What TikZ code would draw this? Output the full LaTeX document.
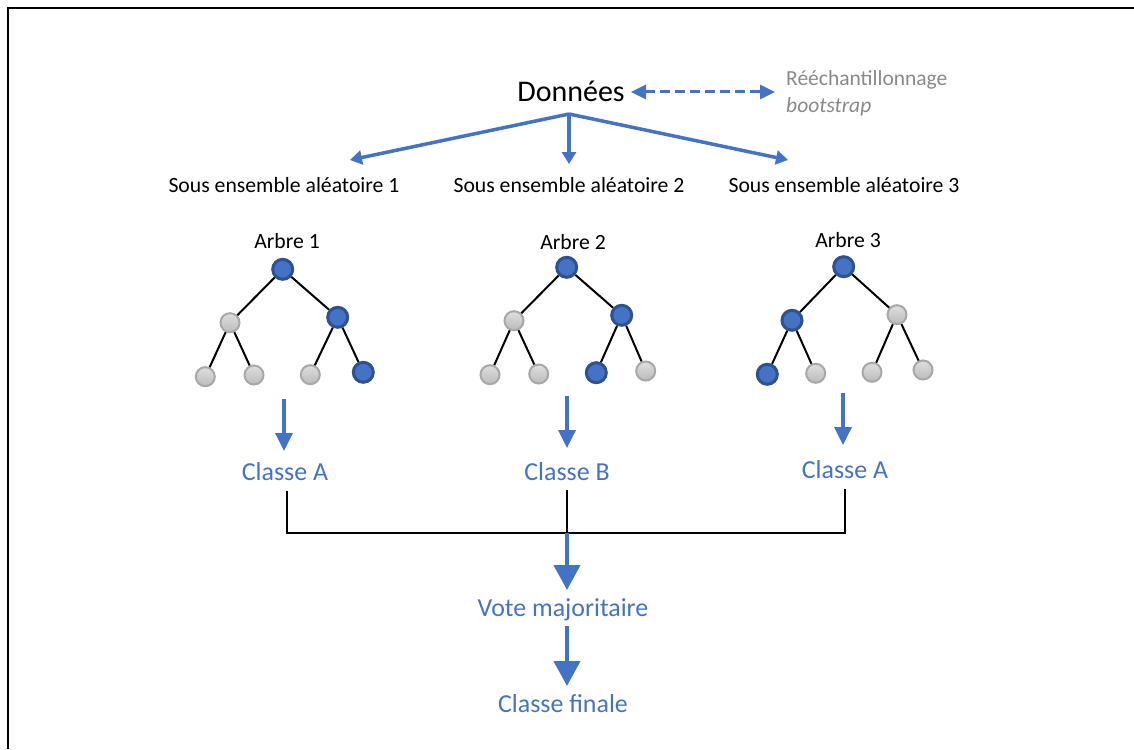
\documentclass[tikz,border=0pt]{standalone}
\usepackage{fontspec}
\setmainfont{Carlito}
\usetikzlibrary{arrows.meta}
\definecolor{bl}{RGB}{68,114,196}
\definecolor{dbl}{RGB}{47,82,143}
\definecolor{gf}{RGB}{208,208,208}
\definecolor{gb}{RGB}{168,168,168}
\definecolor{gt}{RGB}{137,137,137}
\begin{document}
\begin{tikzpicture}[x=1pt,y=-1pt,
  big/.style={font=\fontsize{30}{36}\selectfont, anchor=base, inner sep=0},
  small/.style={font=\fontsize{21.7}{26}\selectfont, anchor=base, inner sep=0},
  grt/.style={font=\fontsize{21.5}{26}\selectfont, text=gt, anchor=base west, inner sep=0},
  cls/.style={font=\fontsize{25.9}{31}\selectfont, text=bl, anchor=base, inner sep=0},
  bn/.style={circle, fill=bl, draw=dbl, line width=3pt, minimum size=20pt, inner sep=0},
  gn/.style={circle, top color=gf!70!white, bottom color=gf!90!black, draw=gb, line width=2pt, minimum size=19pt, inner sep=0},
  tedge/.style={line width=2pt},
  bracket/.style={line width=2pt},
  darrow/.style={draw=bl, line width=3.5pt, -{Triangle[length=12pt,width=14pt]}},
  tarrow/.style={draw=bl, line width=3.5pt, -{Triangle[length=18pt,width=17pt]}},
  barrow/.style={draw=bl, line width=4.3pt, -{Triangle[length=25pt,width=26pt]}},
  dasharrow/.style={draw=bl, line width=3pt, dash pattern=on 10pt off 5pt,
     {Triangle[length=15pt,width=14pt]}-{Triangle[length=15pt,width=14pt]}}
]
\useasboundingbox (0,0) rectangle (1134,749);
% frame
\draw[line width=2pt] (8,749) -- (8,8) -- (1134,8);

% top
\node[big] (don) at (571,102) {Données};
\node[grt] (res) at (786,86) {Rééchantillonnage};
\node[grt] (boot) at (786,113) {\itshape bootstrap};
\coordinate (da) at (631,92);
\coordinate (db) at (775,92);
\draw[dasharrow] (da) -- (db);

\coordinate (split) at (569,114);
\coordinate (t1) at (350,160);
\coordinate (t2) at (569,164);
\coordinate (t3) at (788,160);
\draw[darrow] (split) -- (t1);
\draw[darrow] (split) -- (t2);
\draw[darrow] (split) -- (t3);

\node[small] (s1) at (284,192) {Sous ensemble aléatoire 1};
\node[small] (s2) at (569,192) {Sous ensemble aléatoire 2};
\node[small] (s3) at (844,192) {Sous ensemble aléatoire 3};

\node[small] (a1) at (287,248) {Arbre 1};
\node[small] (a2) at (573,249) {Arbre 2};
\node[small] (a3) at (848,247) {Arbre 3};

% tree 1
\node[bn] (r1) at (282.7,269.3) {};
\node[gn] (l1) at (230,322.7) {};
\node[bn] (m1) at (337.7,317.3) {};
\node[gn] (l1a) at (205.3,376.7) {};
\node[gn] (l1b) at (254,375) {};
\node[gn] (m1a) at (310.3,374.7) {};
\node[bn] (m1b) at (363.3,372.3) {};
\draw[tedge] (r1) -- (l1); \draw[tedge] (r1) -- (m1);
\draw[tedge] (l1) -- (l1a); \draw[tedge] (l1) -- (l1b);
\draw[tedge] (m1) -- (m1a); \draw[tedge] (m1) -- (m1b);

% tree 2
\node[bn] (r2) at (566.7,267.3) {};
\node[gn] (l2) at (514,320.7) {};
\node[bn] (m2) at (621.7,315.3) {};
\node[gn] (l2a) at (490,374.7) {};
\node[gn] (l2b) at (538.7,374) {};
\node[bn] (m2a) at (596.3,372.7) {};
\node[gn] (m2b) at (645.7,371) {};
\draw[tedge] (r2) -- (l2); \draw[tedge] (r2) -- (m2);
\draw[tedge] (l2) -- (l2a); \draw[tedge] (l2) -- (l2b);
\draw[tedge] (m2) -- (m2a); \draw[tedge] (m2) -- (m2b);

% tree 3
\node[bn] (r3) at (843.7,266.7) {};
\node[bn] (l3) at (792,320.3) {};
\node[gn] (m3) at (897,314.7) {};
\node[bn] (l3a) at (767.3,374.3) {};
\node[gn] (l3b) at (815.7,373.3) {};
\node[gn] (m3a) at (872,372.3) {};
\node[gn] (m3b) at (923,370) {};
\draw[tedge] (r3) -- (l3); \draw[tedge] (r3) -- (m3);
\draw[tedge] (l3) -- (l3a); \draw[tedge] (l3) -- (l3b);
\draw[tedge] (m3) -- (m3a); \draw[tedge] (m3) -- (m3b);

% tree arrows
\coordinate (p1) at (284,399);
\coordinate (q1) at (284,451);
\coordinate (p2) at (567,396);
\coordinate (q2) at (567,448);
\coordinate (p3) at (843,393);
\coordinate (q3) at (843,445);
\draw[tarrow] (p1) -- (q1);
\draw[tarrow] (p2) -- (q2);
\draw[tarrow] (p3) -- (q3);

\node[cls] (c1) at (285,480) {Classe A};
\node[cls] (c2) at (567,480) {Classe B};
\node[cls] (c3) at (845,478) {Classe A};

% bracket
\coordinate (b1) at (287,491);
\coordinate (b2) at (567,490);
\coordinate (b3) at (845,489);
\coordinate (j1) at (287,533);
\coordinate (j2) at (567,533);
\coordinate (j3) at (845,533);
\draw[bracket] (b1) -- (j1) -- (j3) -- (b3);
\draw[bracket] (b2) -- (j2);

\coordinate (v0) at (567,590);
\draw[barrow] (j2) -- (v0);
\node[cls] (vote) at (563,616) {Vote majoritaire};
\coordinate (f0) at (567,626);
\coordinate (f1) at (567,686);
\draw[barrow] (f0) -- (f1);
\node[cls] (fin) at (563,712) {Classe finale};
\end{tikzpicture}
\end{document}
